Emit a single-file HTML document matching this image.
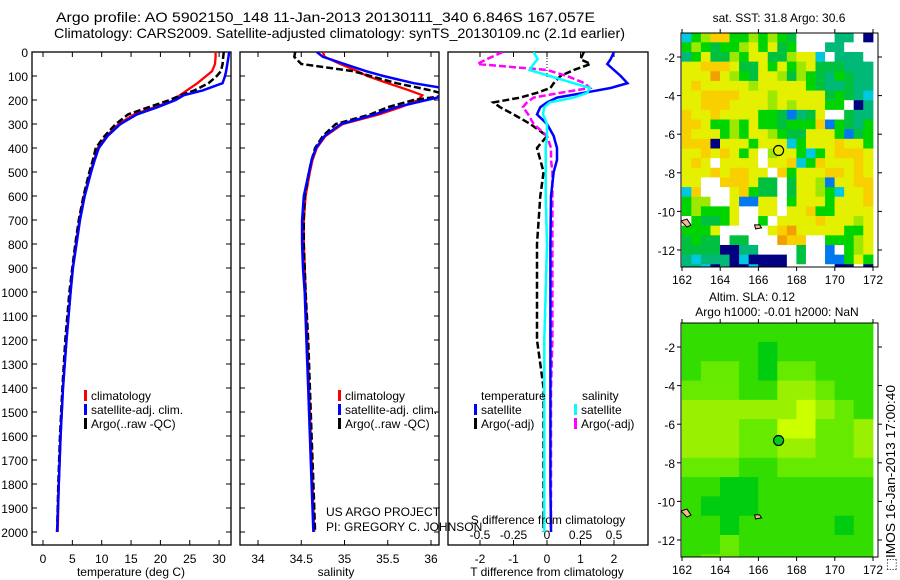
<!DOCTYPE html>
<html><head><meta charset="utf-8"><style>
html,body{margin:0;padding:0;background:#fff;}
svg{display:block;font-family:"Liberation Sans",sans-serif;}
</style></head><body>
<svg id="fig" width="900" height="580" viewBox="0 0 900 580" xmlns="http://www.w3.org/2000/svg">
<text x="56" y="22" font-size="14" textLength="539" lengthAdjust="spacingAndGlyphs">Argo profile: AO 5902150_148 11-Jan-2013 20130111_340 6.846S 167.057E</text>
<text x="54" y="38" font-size="14" textLength="571" lengthAdjust="spacingAndGlyphs">Climatology: CARS2009. Satellite-adjusted climatology: synTS_20130109.nc (2.1d earlier)</text>
<g id="p1"></g>
<g id="p2"></g>
<g id="p3"></g>
<g id="m1"></g>
<g id="m2"></g>
<text x="779" y="22" font-size="12" text-anchor="middle">sat. SST: 31.8 Argo: 30.6</text>
<text x="752" y="301" font-size="12" text-anchor="middle">Altim. SLA: 0.12</text>
<text x="777" y="316" font-size="12" text-anchor="middle">Argo h1000: -0.01 h2000: NaN</text>
<text transform="translate(895,571) rotate(-90)" font-size="12.5" textLength="186" lengthAdjust="spacingAndGlyphs">⬚IMOS 16-Jan-2013 17:00:40</text>
<text x="326" y="516" font-size="12">US ARGO PROJECT</text>
<text x="326" y="531" font-size="12">PI: GREGORY C. JOHNSON</text>
</svg>
<script>
// ---- profile data ----
const depth = [0,20,50,80,100,130,160,180,200,230,260,300,350,400,450,500,600,700,800,900,1000,1200,1400,1600,1800,2000];
const tClim = [29.4,29.4,29.3,28.8,27.8,26.3,24.5,23.3,22.5,19,15.5,12.9,10.8,9.3,8.7,8.1,7,6.2,5.6,5.1,4.7,4.0,3.4,3.0,2.7,2.5];
const tSat  = [31.7,31.6,31.4,31.2,31,30.6,27.2,24,22.6,19.5,16,13.2,11,9.5,8.8,8.2,7.1,6.3,5.7,5.1,4.7,4.0,3.4,3.0,2.7,2.4];
const tArgo = [30.8,30.7,30.6,30.3,29.6,28.2,25.8,23.5,21.6,18,14.5,12.4,10.5,9.0,8.5,7.9,6.9,6.1,5.5,5.0,4.5,3.8,3.3,2.9,2.6,2.4];
const sClim = [34.75,34.77,34.95,35.15,35.26,35.5,35.75,35.9,35.85,35.65,35.4,34.98,34.78,34.68,34.63,34.6,34.55,34.53,34.53,34.54,34.55,34.57,34.59,34.61,34.63,34.65];
const sSat  = [34.68,34.75,35.0,35.25,35.45,35.8,36.3,36.2,35.95,35.6,35.35,34.96,34.77,34.67,34.62,34.59,34.53,34.51,34.51,34.52,34.54,34.56,34.58,34.6,34.62,34.64];
const sArgo = [34.43,34.42,34.5,35.1,35.3,35.6,36.0,36.2,35.8,35.5,35.3,34.9,34.75,34.66,34.62,34.59,34.54,34.53,34.53,34.54,34.55,34.58,34.6,34.62,34.64,34.66];
const dDepth = [0,30,50,75,100,130,150,170,190,210,230,260,300,350,400,450,500,600,800,1000,1200,1400,1600,1800,2000];
const tSatDiff  = [2.0,1.9,1.8,2.0,2.2,2.4,1.9,1.1,0.3,0.0,-0.2,-0.3,0.0,0.2,0.3,0.3,0.2,0.12,0.1,0.1,0.1,0.1,0.1,0.1,0.12];
const tArgoDiff = [1.1,1.0,1.3,0.8,0.4,0.2,0.1,-0.3,-0.8,-1.6,-1.4,-1.0,-0.5,0,-0.3,-0.2,-0.1,-0.2,-0.3,-0.3,-0.3,-0.1,-0.1,-0.1,-0.1];
const sArgoDiff = [-0.33,-0.45,-0.52,0,0.15,0.28,0.32,0.1,-0.1,-0.15,-0.18,-0.14,-0.1,0,0.03,0.03,0.04,0.04,0.04,0.04,0.04,0.03,0.03,0.03,0.03];
const sSatDiff  = [-0.1,-0.07,-0.1,-0.13,0.02,0.2,0.32,0.3,0.2,0.02,-0.02,-0.03,0,0,-0.01,-0.01,-0.01,-0.01,0,-0.01,-0.02,-0.02,-0.02,-0.02,-0.02];
const depthTicks = [0,100,200,300,400,500,600,700,800,900,1000,1100,1200,1300,1400,1500,1600,1700,1800,1900,2000];
const tTicks = [0,5,10,15,20,25,30];
const sTicks = [34,34.5,35,35.5,36];
const tdTicks = [-2,-1,0,1,2];
const sdTicks = [-0.5,-0.25,0,0.25,0.5];
const sdTickLabels = ['-0.5','-0.25','0','0.25','0.5'];
// ---- map data ----
const sstRows = [
"cgloogglglgGwwwwttwn","glgGgglygyGgwwwttwww","tgyGGlgyyGGlyycwtttw","yyoooyGGygyglyGGGttt",
"yyyOylgGyylGlgGtgGtt","yoyyyyylyyyyygGttGtt","yyooooyyylyyyyyGgGtc","yyoooyyyylylyyyggwnt",
"oyyoyyyyggGbtGywwGtt","ooygglgyggGgggobgGtg","oyyyglgyylgGGyyygbGg","ooonyyygyyycgyyyoyyg",
"yyoyoygywlyygcgyoooy","yoywyyyywyyocgoyyyoy","yyyoyooyywogyyyooyoy","yywwoooyGGwGyylbyyoo",
"cowwwyogGGwGyylgcyyo","gllwwybbyywgyyygyyyo","glgggywwyywyyoggyyyy","wgGGgywwgwyyyyoyyyly",
"gggywwwwwyoOyyyyyggy","GgGGwGGwwwOoowwgggly","GGGGnnttwwwwGwwbwgly","tctttncnnnnwGwwbbgyg",
"ttcntnncnnnwwwwwnnwn"];
const slaRows = ["1111111111","1111011111","1221022111","2221133211","3333334321","3332244223",
"3332233223","2221122222","1100111111","1000111111","1101111101","1121111111","1221111111","1111111111"];
const argoLon = 167.057, argoLat = -6.846;
const lonTicks = [162,164,166,168,170,172];
const latTicks = [-2,-4,-6,-8,-10,-12];

const NS='http://www.w3.org/2000/svg';
function mk(parent,tag,attrs){const e=document.createElementNS(NS,tag);for(const k in attrs)e.setAttribute(k,attrs[k]);parent.appendChild(e);return e;}
const TOP=52, BOT=545;
const yD = d => TOP + d*0.24;

function frame(g,x0,x1,name){
  const r=mk(g,'rect',{x:x0,y:TOP,width:x1-x0,height:BOT-TOP,fill:'none',stroke:'#000','stroke-width':1.3});
  
  
  depthTicks.forEach(d=>{const y=yD(d);
    mk(g,'line',{x1:x0,x2:x0+5,y1:y,y2:y,stroke:'#000'});
    mk(g,'line',{x1:x1-5,x2:x1,y1:y,y2:y,stroke:'#000'});});
}
function xTicks(g,vals,labels,fx,ly,name,top){
  vals.forEach((v,i)=>{const x=fx(v);
    mk(g,'line',{x1:x,x2:x,y1:BOT,y2:BOT-5,stroke:'#000'});
    if(top) mk(g,'line',{x1:x,x2:x,y1:TOP,y2:TOP+5,stroke:'#000'});
    if(ly){const t=mk(g,'text',{x:x,y:ly,'font-size':12,'text-anchor':'middle'});t.textContent=labels[i];
    
    }});
}
function line(g,xs,ds,fx,color,dash,w,name){
  const pts=xs.map((v,i)=>fx(v).toFixed(1)+','+yD(ds[i]).toFixed(1)).join(' ');
  const p=mk(g,'polyline',{points:pts,fill:'none',stroke:color,'stroke-width':w||2.3,'stroke-dasharray':dash||'none'});
  
  
}
function legend(g,x,y,color,label,name){
  mk(g,'rect',{x:x,y:y-10,width:3,height:11,fill:color});
  const t=mk(g,'text',{x:x+7,y:y,'font-size':12});t.textContent=label;
  
  
}
// Panel 1
const p1=document.getElementById('p1');
const fT=v=>43+v*5.87;
const cp1=mk(p1,'clipPath',{id:'c1'});mk(cp1,'rect',{x:32,y:TOP,width:199,height:BOT-TOP});
frame(p1,32,231,'temperature-frame');
depthTicks.forEach(d=>{const t=mk(p1,'text',{x:28,y:yD(d)+5,'font-size':12,'text-anchor':'end'});t.textContent=d;
  
  });
xTicks(p1,tTicks,tTicks,fT,563,'temperature-tick-label',true);
const g1=mk(p1,'g',{'clip-path':'url(#c1)'});
line(g1,tClim,depth,fT,'#f00',null,2.3,'temperature-climatology-line');
line(g1,tArgo,depth,fT,'#000','7,3',2.5,'temperature-argo-line');
line(g1,tSat,depth,fT,'#00f',null,2.5,'temperature-satellite-line');
legend(p1,84,400,'#f00','climatology','legend-climatology');
legend(p1,84,414,'#00f','satellite-adj. clim.','legend-satellite');
legend(p1,84,428,'#000','Argo(..raw -QC)','legend-argo');
{const t=mk(p1,'text',{x:131,y:576,'font-size':12,'text-anchor':'middle'});t.textContent='temperature (deg C)';
}
// Panel 2
const p2=document.getElementById('p2');
const fS=v=>258+(v-34)*86.5;
const cp2=mk(p2,'clipPath',{id:'c2'});mk(cp2,'rect',{x:240,y:TOP,width:199,height:BOT-TOP});
frame(p2,240,439,'salinity-frame');
xTicks(p2,sTicks,sTicks,fS,563,'salinity-tick-label',true);
const g2=mk(p2,'g',{'clip-path':'url(#c2)'});
line(g2,sClim,depth,fS,'#f00',null,2.3,'salinity-climatology-line');
line(g2,sArgo,depth,fS,'#000','7,3',2.5,'salinity-argo-line');
line(g2,sSat,depth,fS,'#00f',null,2.5,'salinity-satellite-line');
legend(p2,338,400,'#f00','climatology','legend-climatology');
legend(p2,338,414,'#00f','satellite-adj. clim.','legend-satellite');
legend(p2,338,428,'#000','Argo(..raw -QC)','legend-argo');
{const t=mk(p2,'text',{x:336,y:576,'font-size':12,'text-anchor':'middle'});t.textContent='salinity';
}
// Panel 3
const p3=document.getElementById('p3');
const fTd=v=>547+v*33.5, fSd=v=>547+v*134;
const cp3=mk(p3,'clipPath',{id:'c3'});mk(cp3,'rect',{x:448,y:TOP,width:200,height:BOT-TOP});
mk(p3,'rect',{x:448,y:TOP,width:200,height:BOT-TOP,fill:'none',stroke:'#000','stroke-width':1.3});
xTicks(p3,tdTicks,tdTicks,fTd,563,'t-diff-tick-label',true);
xTicks(p3,sdTicks,sdTickLabels,fSd,539,'s-diff-tick-label',false);
mk(p3,'line',{x1:547,x2:547,y1:TOP,y2:yD(110),stroke:'#000','stroke-dasharray':'1,2'});
const g3=mk(p3,'g',{'clip-path':'url(#c3)'});
line(g3,tArgoDiff,dDepth,fTd,'#000','7,3',2.5,'t-diff-argo-line');
line(g3,sArgoDiff,dDepth,fSd,'#f0f','7,3',2.5,'s-diff-argo-line');
line(g3,tSatDiff,dDepth,fTd,'#00f',null,2.5,'t-diff-satellite-line');
line(g3,sSatDiff,dDepth,fSd,'#0ff',null,2.5,'s-diff-satellite-line');
[[481,400,'temperature'],[582,400,'salinity']].forEach(a=>{const t=mk(p3,'text',{x:a[0],y:a[1],'font-size':12});t.textContent=a[2];
});
legend(p3,474,414,'#00f','satellite','legend-t-satellite');
legend(p3,474,428,'#000','Argo(-adj)','legend-t-argo');
legend(p3,574,414,'#0ff','satellite','legend-s-satellite');
legend(p3,574,428,'#f0f','Argo(-adj)','legend-s-argo');
{const t=mk(p3,'text',{x:548,y:524,'font-size':12,'text-anchor':'middle'});t.textContent='S difference from climatology';
}
{const t=mk(p3,'text',{x:547,y:576,'font-size':12,'text-anchor':'middle'});t.textContent='T difference from climatology';
}

// Maps
const sstCol={c:'#00c8e0',g:'#00d400',G:'#00c040',l:'#9ce800',y:'#e4f000',o:'#f8d000',O:'#f0a000',t:'#00b878',b:'#0078f0',n:'#000080',w:'#ffffff'};
const slaCol=['#00cc10','#33dd00','#66ea00','#99f000','#ccff00'];
const fLon=v=>682+(v-162)*19.1;
function drawMap(gid,y0,rows,cellDeg,colorFn,name,cid){
  const g=document.getElementById(gid);
  const yL=v=>y0+24+(-2-v)*19.3;
  const cp=mk(g,'clipPath',{id:cid});mk(cp,'rect',{x:681,y:y0,width:197,height:234});
  const cg=mk(g,'g',{'clip-path':'url(#'+cid+')'});
  rows.forEach((r,i)=>{for(let j=0;j<r.length;j++){
    const lat0=-0.75-i*cellDeg, lon0=162+j*cellDeg;
    const cell=mk(cg,'rect',{x:fLon(lon0)-0.2,y:yL(lat0)-0.2,width:cellDeg*19.1+0.6,height:cellDeg*19.3+0.6,fill:colorFn(r[j])});
    
    }});
  mk(cg,'path',{d:`M681,${yL(-10.5)} l6,-2 l4,6 l-4,2 z`,fill:'#f5b895',stroke:'#000'});
  mk(cg,'path',{d:`M${fLon(165.8)},${yL(-10.7)} l5,0 l2,3 l-6,1 z`,fill:'#f5b895',stroke:'#000'});
  const m=mk(cg,'circle',{cx:fLon(argoLon),cy:yL(argoLat),r:5,fill:name==='sst'?'#e0f000':'#00cc20',stroke:'#000','stroke-width':1.2});
  
  
  mk(g,'rect',{x:681,y:y0,width:197,height:234,fill:'none',stroke:'#000'});
  lonTicks.forEach(v=>{const x=fLon(v);mk(g,'line',{x1:x,x2:x,y1:y0,y2:y0-4,stroke:'#000'});
    mk(g,'line',{x1:x,x2:x,y1:y0+234,y2:y0+238,stroke:'#000'});
    const t=mk(g,'text',{x:x,y:y0+251,'font-size':12,'text-anchor':'middle'});t.textContent=v;
    });
  latTicks.forEach(v=>{const y=yL(v);mk(g,'line',{x1:681,x2:677,y1:y,y2:y,stroke:'#000'});
    mk(g,'line',{x1:878,x2:882,y1:y,y2:y,stroke:'#000'});
    const t=mk(g,'text',{x:675,y:y+5,'font-size':12,'text-anchor':'end'});t.textContent=v;
    });
}
drawMap('m1',33,sstRows,0.5,c=>sstCol[c],'sst','cm1');
drawMap('m2',323,slaRows,1,c=>slaCol[+c],'sla','cm2');
</script>
</body></html>
